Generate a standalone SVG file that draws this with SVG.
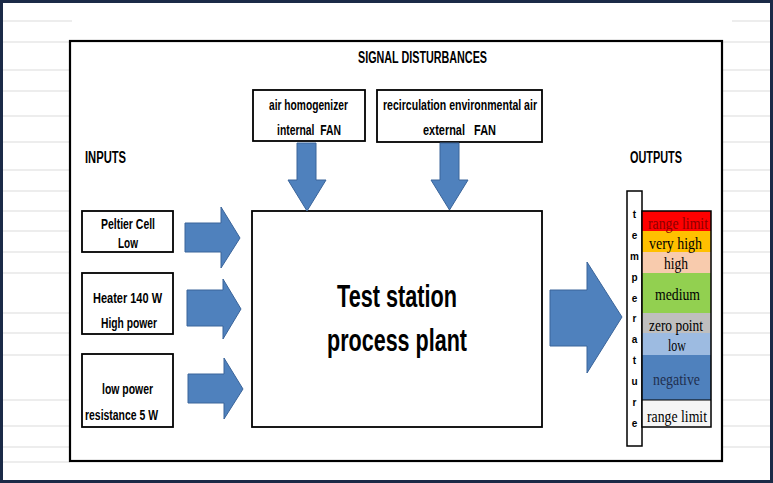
<svg xmlns="http://www.w3.org/2000/svg" width="773" height="483" viewBox="0 0 773 483">
<defs>
<style>
.grid{stroke:#dcdcdc;stroke-width:1.2;fill:none}
.box{fill:#fff;stroke:#000;stroke-width:1.8}
.lbl{font-family:"Liberation Sans Narrow","Liberation Sans",Arial,sans-serif;font-weight:bold;font-size:14.5px;fill:#000}
.hdr{font-family:"Liberation Sans Narrow","Liberation Sans",Arial,sans-serif;font-weight:bold;font-size:16px;fill:#000}
.big{font-family:"Liberation Sans Narrow","Liberation Sans",Arial,sans-serif;font-weight:bold;font-size:32px;fill:#000}
.arr{fill:#4F81BD;stroke:#3A649A;stroke-width:1}
.bar{font-family:"Liberation Serif","Times New Roman",serif;font-size:17px;fill:#000}
.vt{font-family:"Liberation Sans","DejaVu Sans",sans-serif;font-weight:bold;font-size:10px;fill:#000;text-anchor:middle}
</style>
</defs>
<rect x="0" y="0" width="773" height="483" fill="#fff"/>
<g id="gridlines">
<path class="grid" d="M0,21H72M0,42H70M0,70H70M0,91H70M0,116H70M0,142H70M0,170H70M0,191H70M0,211H70M0,231H70M0,252H70M0,273H70M0,313H70M0,333H70M0,355H70M0,400H70M0,426H70M0,447H70M0,462H70"/>
<path class="grid" d="M732,21H773M722,42H773M722,70H773M722,91H773M722,116H773M722,142H773M722,170H773M722,191H773M722,211H773M722,231H773M722,252H773M722,273H773M722,313H773M722,333H773M722,355H773M722,400H773M722,426H773M722,447H773"/>
</g>
<rect x="1.5" y="1.5" width="770" height="480" fill="none" stroke="#1B2A47" stroke-width="3"/>
<rect id="frame" x="70" y="41" width="652" height="420" fill="#fff" stroke="#000" stroke-width="2.2"/>
<text class="hdr" x="422.5" y="63" text-anchor="middle" font-size="15" textLength="129" lengthAdjust="spacingAndGlyphs">SIGNAL DISTURBANCES</text>
<text class="hdr" x="85" y="163" textLength="41" lengthAdjust="spacingAndGlyphs">INPUTS</text>
<text class="hdr" x="630" y="163" textLength="52" lengthAdjust="spacingAndGlyphs">OUTPUTS</text>
<g id="node-air-homogenizer">
<rect class="box" x="253" y="90" width="112" height="51"/>
<text class="lbl" x="269" y="110" textLength="79" lengthAdjust="spacingAndGlyphs">air homogenizer</text>
<text class="lbl" x="277" y="135" textLength="64" lengthAdjust="spacingAndGlyphs" xml:space="preserve">internal  FAN</text>
</g>
<g id="node-recirculation">
<rect class="box" x="377" y="90" width="165" height="52"/>
<text class="lbl" x="383" y="110" textLength="154" lengthAdjust="spacingAndGlyphs">recirculation environmental air</text>
<text class="lbl" x="423" y="135" textLength="73" lengthAdjust="spacingAndGlyphs" xml:space="preserve">external   FAN</text>
</g>
<g id="node-peltier">
<rect class="box" x="82" y="211" width="91" height="41"/>
<text class="lbl" x="101" y="229" textLength="54" lengthAdjust="spacingAndGlyphs">Peltier Cell</text>
<text class="lbl" x="118" y="248" textLength="20" lengthAdjust="spacingAndGlyphs">Low</text>
</g>
<g id="node-heater">
<rect class="box" x="82" y="273" width="91" height="61"/>
<text class="lbl" x="93" y="303" textLength="69" lengthAdjust="spacingAndGlyphs">Heater 140 W</text>
<text class="lbl" x="101" y="328" textLength="56" lengthAdjust="spacingAndGlyphs">High power</text>
</g>
<g id="node-low-power">
<rect class="box" x="82" y="354" width="91" height="73"/>
<text class="lbl" x="102" y="394" textLength="51" lengthAdjust="spacingAndGlyphs">low power</text>
<text class="lbl" x="85" y="420" textLength="73" lengthAdjust="spacingAndGlyphs">resistance 5 W</text>
</g>
<g id="node-test-station">
<rect class="box" x="252" y="211" width="290" height="216"/>
<text class="big" x="337" y="307" textLength="120" lengthAdjust="spacingAndGlyphs">Test station</text>
<text class="big" x="327" y="351" textLength="140" lengthAdjust="spacingAndGlyphs">process plant</text>
</g>
<g id="connectors">
<path class="arr" d="M297,143H316V180H326L307,211L288,180H297Z"/>
<path class="arr" d="M440,143H459V180H468L449.5,210L431,180H440Z"/>
<path class="arr" d="M185,223H221V207L240,238L221,268V252H185Z"/>
<path class="arr" d="M187,290H223V279L241,309L223,339V326H187Z"/>
<path class="arr" d="M188,374H224V358L243,389L224,419V403H188Z"/>
<path class="arr" d="M550,290H587V262L622,317L587,373V346H550Z"/>
</g>
<g id="node-temperature">
<rect x="627" y="191" width="15" height="255" fill="#fff" stroke="#000" stroke-width="1.5"/>
<text class="vt" x="634.5" y="218">t</text>
<text class="vt" x="634.5" y="239">e</text>
<text class="vt" x="634.5" y="260">m</text>
<text class="vt" x="634.5" y="281">p</text>
<text class="vt" x="634.5" y="302">e</text>
<text class="vt" x="634.5" y="322">r</text>
<text class="vt" x="634.5" y="343">a</text>
<text class="vt" x="634.5" y="364">t</text>
<text class="vt" x="634.5" y="385">u</text>
<text class="vt" x="634.5" y="406">r</text>
<text class="vt" x="634.5" y="427">e</text>
</g>
<g id="node-scale">
<rect x="642" y="211" width="69" height="20" fill="#FF0000"/>
<rect x="642" y="231" width="69" height="21" fill="#FFC000"/>
<rect x="642" y="252" width="69" height="21" fill="#F8CBAD"/>
<rect x="642" y="273" width="69" height="40" fill="#92D050"/>
<rect x="642" y="313" width="69" height="20" fill="#BFBFBF"/>
<rect x="642" y="333" width="69" height="22" fill="#9DBBE1"/>
<rect x="642" y="355" width="69" height="45" fill="#4F81BD"/>
<rect x="642" y="400" width="69" height="27" fill="#F5F5F5"/>
<rect x="642" y="211" width="69" height="216" fill="none" stroke="#000" stroke-width="1.5"/>
<line x1="642" y1="400" x2="711" y2="400" stroke="#000" stroke-width="1.2"/>
<text class="bar" x="648" y="229" style="fill:#8B0000" textLength="60" lengthAdjust="spacingAndGlyphs">range limit</text>
<text class="bar" x="649" y="249" textLength="53" lengthAdjust="spacingAndGlyphs">very high</text>
<text class="bar" x="664" y="269" textLength="24" lengthAdjust="spacingAndGlyphs">high</text>
<text class="bar" x="655" y="300" textLength="45" lengthAdjust="spacingAndGlyphs">medium</text>
<text class="bar" x="649" y="331" textLength="54" lengthAdjust="spacingAndGlyphs">zero point</text>
<text class="bar" x="668" y="351" textLength="18" lengthAdjust="spacingAndGlyphs">low</text>
<text class="bar" x="653" y="385" style="fill:#1F2F4F" textLength="47" lengthAdjust="spacingAndGlyphs">negative</text>
<text class="bar" x="647" y="422" textLength="60" lengthAdjust="spacingAndGlyphs">range limit</text>
</g>
</svg>
